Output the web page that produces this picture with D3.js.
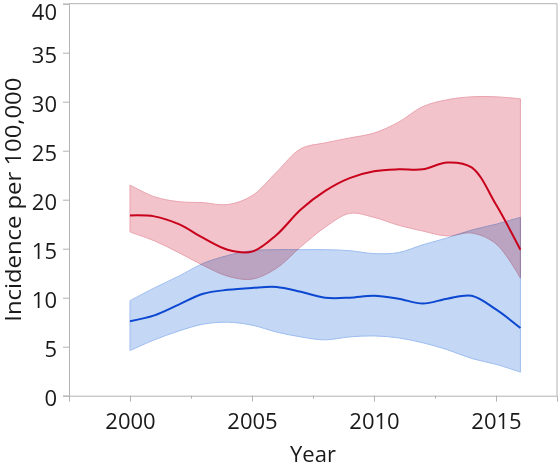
<!DOCTYPE html>
<html>
<head>
<meta charset="utf-8">
<script src="https://cdn.jsdelivr.net/npm/d3@7"></script>
<style>
  html, body { margin: 0; padding: 0; background: #fff; }
  svg { display: block; font-family: "Open Sans", "Noto Sans", sans-serif; }
  .band { mix-blend-mode: multiply; }
</style>
</head>
<body>
<svg id="chart" width="560" height="466"></svg>
<script>
const years = [2000,2001,2002,2003,2004,2005,2006,2007,2008,2009,2010,2011,2012,2013,2014,2015,2016];
const redMean  = [18.4,18.3,17.5,16.1,14.9,14.7,16.4,19.0,20.9,22.2,22.9,23.1,23.1,23.8,23.3,19.5,14.9];
const redLow   = [16.7,15.8,14.6,13.3,12.2,11.9,13.0,15.2,17.2,18.6,18.2,17.4,16.8,16.3,16.6,15.5,12.0];
const redHigh  = [21.5,20.3,19.8,19.7,19.5,20.4,22.8,25.2,25.8,26.3,26.8,27.9,29.5,30.2,30.5,30.5,30.3];
const blueMean = [7.6,8.2,9.3,10.4,10.8,11.0,11.1,10.6,10.0,10.0,10.2,9.9,9.4,9.9,10.2,8.8,6.9];
const blueLow  = [4.6,5.7,6.6,7.3,7.5,7.2,6.5,6.0,5.7,6.0,6.1,5.9,5.4,4.7,3.8,3.2,2.4];
const blueHigh = [9.7,11.0,12.2,13.5,14.3,14.8,14.9,14.9,14.9,14.8,14.5,14.6,15.4,16.1,16.9,17.5,18.2];
const xTicks = [2000,2005,2010,2015];
const xMinorTicks = [2002.5,2007.5,2012.5];
const yTicks = [0,5,10,15,20,25,30,35,40];
const xTitle = "Year";
const yTitle = "Incidence per 100,000";

const svg = d3.select("#chart");
const x = d3.scaleLinear().domain([1997.5, 2017.5]).range([69, 557]);
const y = d3.scaleLinear().domain([0, 40]).range([395.7, 3.7]);
const axisColor = "#b3b3b3";
const textColor = "#1a1a1a";

const curve = d3.curveCatmullRom.alpha(0.5);
const area = (lo, hi) => d3.area().curve(curve)
  .x((d, i) => x(years[i])).y0((d, i) => y(lo[i])).y1((d, i) => y(hi[i]));
const line = vals => d3.line().curve(curve).x((d, i) => x(years[i])).y((d, i) => y(vals[i]));

// bands
svg.append("path").attr("class", "band").datum(years)
  .attr("d", area(blueLow, blueHigh))
  .attr("fill", "#c4d7f4").attr("stroke", "#9dbdf0").attr("stroke-width", 1);
svg.append("path").attr("class", "band").datum(years)
  .attr("d", area(redLow, redHigh))
  .attr("fill", "#f2c3ca").attr("stroke", "#eaa3ae").attr("stroke-width", 1);

// lines
svg.append("path").datum(years).attr("d", line(blueMean))
  .attr("fill", "none").attr("stroke", "#0b47d1").attr("stroke-width", 2);
svg.append("path").datum(years).attr("d", line(redMean))
  .attr("fill", "none").attr("stroke", "#c8001c").attr("stroke-width", 2);

// frame (top & right)
svg.append("line").attr("x1", x.range()[0]).attr("x2", x.range()[1])
  .attr("y1", y(40)).attr("y2", y(40)).attr("stroke", axisColor);
svg.append("line").attr("x1", x.range()[1]).attr("x2", x.range()[1])
  .attr("y1", y(40)).attr("y2", y(0)).attr("stroke", axisColor);

// axes
const yAxis = svg.append("g").attr("transform", `translate(${x.range()[0]},0)`)
  .call(d3.axisLeft(y).tickValues(yTicks).tickSize(6).tickPadding(6).tickFormat(d3.format("d")));
const xAxis = svg.append("g").attr("transform", `translate(0,${y(0)})`)
  .call(d3.axisBottom(x).tickValues(xTicks).tickSize(6).tickPadding(12).tickFormat(d3.format("d")));
const xMinor = svg.append("g").attr("transform", `translate(0,${y(0)})`)
  .call(d3.axisBottom(x).tickValues(xMinorTicks).tickSize(3).tickFormat(""));
xMinor.select(".domain").remove();

[yAxis, xAxis, xMinor].forEach(g => {
  g.selectAll("path.domain").attr("stroke", axisColor);
  g.selectAll(".tick line").attr("stroke", axisColor);
  g.selectAll("text").attr("fill", textColor).style("font-size", "22px")
    .style("font-family", '"Open Sans", "Noto Sans", sans-serif');
});
yAxis.selectAll(".tick text").attr("dy", "0.43em");
// top label kept inside the frame, as in the reference
yAxis.selectAll(".tick").filter(d => d === 40).select("text").attr("dy", "0.71em").attr("y", 0.5);

// titles
svg.append("text").attr("x", (x.range()[0] + x.range()[1]) / 2).attr("y", 462)
  .attr("text-anchor", "middle").attr("fill", textColor).style("font-size", "22px")
  .text(xTitle);
svg.append("text").attr("transform", `translate(21,${(y(0) + y(40)) / 2}) rotate(-90)`)
  .attr("text-anchor", "middle").attr("fill", textColor).style("font-size", "21px")
  .attr("textLength", 244).attr("lengthAdjust", "spacingAndGlyphs")
  .text(yTitle);
</script>
</body>
</html>
